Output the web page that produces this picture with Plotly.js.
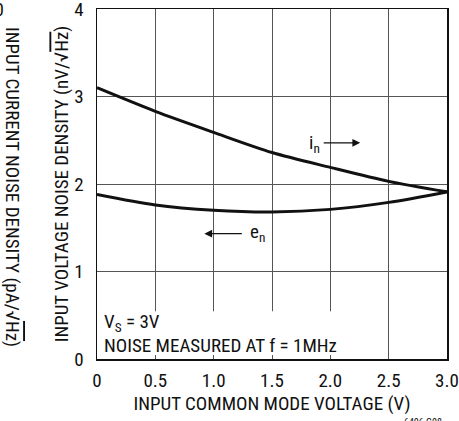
<!DOCTYPE html>
<html>
<head>
<meta charset="utf-8">
<script src="https://cdn.plot.ly/plotly-3.0.1.min.js"></script>
<style>
  html, body { margin: 0; padding: 0; background: #fff; }
  #chart { width: 459px; height: 421px; }
</style>
</head>
<body>
<div id="chart"></div>
<script>
// Data
const commonModeVoltage = [0, 0.5, 1.0, 1.5, 2.0, 2.5, 3.0];          // V
const currentNoise      = [3.10, 2.83, 2.59, 2.36, 2.19, 2.03, 1.91];  // i_n
const voltageNoise      = [1.88, 1.76, 1.70, 1.68, 1.71, 1.79, 1.91];  // e_n, nV/√Hz
const xTickVals  = [0, 0.5, 1.0, 1.5, 2.0, 2.5, 3.0];
const xTickText  = ['0', '0.5', '1.0', '1.5', '2.0', '2.5', '3.0'];
const yTickVals  = [0, 1, 2, 3, 4];
const yTickText  = ['0', '1', '2', '3', '4'];

const FONT = 'Liberation Sans Narrow, Arial Narrow, Roboto Condensed, sans-serif';
const FS = 19;
const OVER = '<span style="text-decoration:overline">Hz</span>';

const L = 97, R = 12, T = 9, B = 62;
const W = 459, H = 421;
const pw = W - L - R, ph = H - T - B;
const px = v => (v - L) / pw;
const py = v => (H - B - v) / ph;

const lineStyle = {color: '#111', width: 3, shape: 'spline', smoothing: 0.8};

const traces = [
  {x: commonModeVoltage, y: currentNoise, mode: 'lines', line: lineStyle, name: 'i_n', hoverinfo: 'skip'},
  {x: commonModeVoltage, y: voltageNoise, mode: 'lines', line: lineStyle, name: 'e_n', hoverinfo: 'skip'}
];

const layout = {
  width: W, height: H,
  margin: {l: L, r: R, t: T, b: B, pad: 0},
  paper_bgcolor: '#fff', plot_bgcolor: '#fff',
  showlegend: false,
  font: {family: FONT, size: FS, color: '#111'},
  xaxis: {
    range: [0, 3], tickvals: xTickVals, ticktext: xTickText,
    showgrid: true, gridcolor: '#555', gridwidth: 1,
    showline: true, linecolor: '#111', linewidth: 1.5, mirror: true,
    ticks: 'outside', ticklen: 4, tickcolor: 'rgba(0,0,0,0)',
    ticklabeloverflow: 'allow',
    zeroline: false, fixedrange: true,
    tickfont: {family: FONT, size: FS, color: '#111'},
    title: {text: 'INPUT COMMON MODE VOLTAGE (V)', font: {family: FONT, size: FS, color: '#111'}, standoff: 4}
  },
  yaxis: {
    range: [0, 4], tickvals: yTickVals, ticktext: yTickText,
    showgrid: true, gridcolor: '#555', gridwidth: 1,
    showline: true, linecolor: '#111', linewidth: 1.5, mirror: true,
    ticks: 'outside', ticklen: 8, tickcolor: 'rgba(0,0,0,0)',
    ticklabeloverflow: 'allow',
    zeroline: false, fixedrange: true,
    tickfont: {family: FONT, size: FS, color: '#111'},
    title: {text: 'INPUT VOLTAGE NOISE DENSITY (nV/√' + OVER + ')', font: {family: FONT, size: FS, color: '#111'}, standoff: 0}
  },
  shapes: [
    {type: 'rect', layer: 'between', xref: 'x', yref: 'y', x0: 0, x1: 2.2, y0: 0.045, y1: 0.545,
     fillcolor: '#fff', line: {width: 0}}
  ],
  annotations: [
    {xref: 'x', yref: 'y', x: 0.04, y: 0.415, xanchor: 'left', yanchor: 'middle', showarrow: false,
     text: 'V<sub>S</sub> = 3V', font: {family: FONT, size: FS, color: '#111'}},
    {xref: 'x', yref: 'y', x: 0.04, y: 0.155, xanchor: 'left', yanchor: 'middle', showarrow: false,
     text: 'NOISE MEASURED AT f = 1MHz', font: {family: FONT, size: FS, color: '#111'}},
    // i_n label and arrow
    {xref: 'x', yref: 'y', x: 1.80, y: 2.46, xanchor: 'left', yanchor: 'middle', showarrow: false,
     text: 'i<sub>n</sub>', font: {family: FONT, size: FS, color: '#111'}},
    {xref: 'x', yref: 'y', x: 2.256, y: 2.47, ax: -38, ay: 0, text: '', showarrow: true,
     arrowhead: 2, arrowsize: 1.3, arrowwidth: 1.2, arrowcolor: '#111'},
    // e_n label and arrow
    {xref: 'x', yref: 'y', x: 1.297, y: 1.445, xanchor: 'left', yanchor: 'middle', showarrow: false,
     text: 'e<sub>n</sub>', font: {family: FONT, size: FS, color: '#111'}},
    {xref: 'x', yref: 'y', x: 0.92, y: 1.432, ax: 39, ay: 0, text: '', showarrow: true,
     arrowhead: 2, arrowsize: 1.3, arrowwidth: 1.2, arrowcolor: '#111'},
    // cropped neighbouring axis (left edge)
    {xref: 'paper', yref: 'paper', x: px(13), y: py(187), xanchor: 'center', yanchor: 'middle', showarrow: false,
     textangle: 90, text: 'INPUT CURRENT NOISE DENSITY (pA/√' + OVER + ')', font: {family: FONT, size: FS, color: '#111'}},
    {xref: 'paper', yref: 'paper', x: px(6), y: py(9), xanchor: 'right', yanchor: 'middle', showarrow: false,
     text: '10', font: {family: FONT, size: FS, color: '#111'}},
    // figure code
    {xref: 'paper', yref: 'paper', x: px(444), y: py(415), xanchor: 'right', yanchor: 'top', showarrow: false,
     text: '6406 G08', font: {family: FONT, size: 10, color: '#111'}}
  ]
};

Plotly.newPlot('chart', traces, layout, {staticPlot: true, displayModeBar: false});
</script>
</body>
</html>
